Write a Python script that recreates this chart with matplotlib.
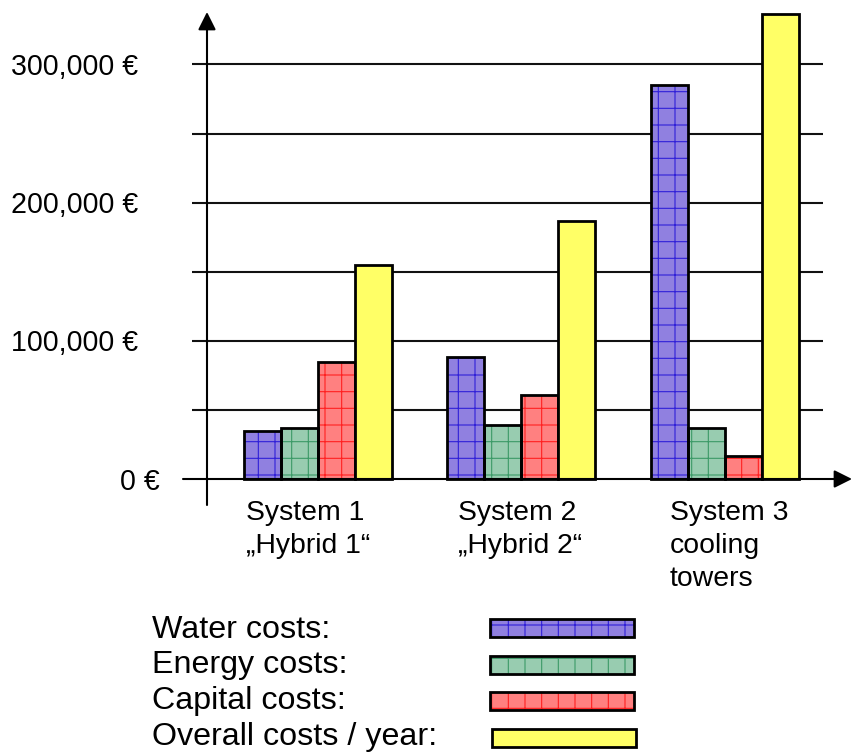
import matplotlib
matplotlib.use('Agg')
import matplotlib.pyplot as plt
from matplotlib.patches import Rectangle
import matplotlib.transforms as mtransforms

# ---------------- data ----------------
categories = [["System 1", "„Hybrid 1“"],
              ["System 2", "„Hybrid 2“"],
              ["System 3", "cooling", "towers"]]
series_names = ["Water costs:", "Energy costs:", "Capital costs:", "Overall costs / year:"]
water = [35000, 88000, 285000]
energy = [37000, 39000, 37000]
capital = [85000, 61000, 17000]
overall = [155000, 187000, 336500]
grid_values = [50000, 100000, 150000, 200000, 250000, 300000]
tick_values = [0, 100000, 200000, 300000]
tick_labels = ["0 €", "100,000 €", "200,000 €", "300,000 €"]

face_colors = ["#9080e0", "#98ccb0", "#ff8080", "#ffff66"]
hatch_colors = ["#3020d8", "#3c9a68", "#ff2020", None]

plt.rcParams['font.family'] = ['Liberation Sans', 'DejaVu Sans']
plt.rcParams['hatch.linewidth'] = 0.8

W, H = 852, 756
fig = plt.figure(figsize=(W / 100, H / 100), dpi=100)
fig.patch.set_facecolor('white')


def fx(px):
    return px / W


def fy(py):
    return 1 - py / H


# axes covering the plotting region (pixel layout)
ax = fig.add_axes([fx(183), fy(505), (852 - 183) / W, (505 - 12) / H])
grp = 203.5      # px per group
x0px = 317.5     # px of first group centre
y0px = 479       # px of zero
ppk = 1.382      # px per 1000 €
ax.set_xlim((183 - x0px) / grp, (852 - x0px) / grp)
ax.set_ylim((y0px - 505) / ppk * 1000, (y0px - 12) / ppk * 1000)
ax.axis('off')

# gridlines
gx0 = (192 - x0px) / grp
gx1 = (823 - x0px) / grp
ax.hlines(grid_values, gx0, gx1, colors='#111111', lw=1.5, zorder=1)

# bars
series = [water, energy, capital, overall]
bw = 37 / grp
xs = list(range(len(categories)))
for i, vals in enumerate(series):
    pos = [x + (i - 1.5) * bw for x in xs]
    if hatch_colors[i] is not None:
        ax.bar(pos, vals, bw, color=face_colors[i], edgecolor=hatch_colors[i],
               hatch='+', linewidth=0, zorder=2)
        ax.bar(pos, vals, bw, facecolor='none', edgecolor='black',
               linewidth=2, zorder=3)
    else:
        ax.bar(pos, vals, bw, color=face_colors[i], edgecolor='black',
               linewidth=2, zorder=3)

# axes with arrows
ylo, yhi = ax.get_ylim()
xlo, xhi = ax.get_xlim()
xa = (207 - x0px) / grp
arrow = dict(arrowstyle='-|>,head_length=0.9,head_width=0.45', lw=1.5,
             color='black', shrinkA=0, shrinkB=0, mutation_scale=12)
ax.annotate('', xy=(xa, yhi), xytext=(xa, ylo), arrowprops=arrow,
            annotation_clip=False, zorder=5)
ax.annotate('', xy=(xhi, 0), xytext=(xlo, 0), arrowprops=arrow,
            annotation_clip=False, zorder=5)

# y tick labels
trans = mtransforms.blended_transform_factory(fig.transFigure, ax.transData) + \
    mtransforms.ScaledTranslation(0, -0.105, fig.dpi_scale_trans)
for v, lab in zip(tick_values, tick_labels):
    xr = 160 if v == 0 else 138
    fig.text(fx(xr), v, lab, transform=trans, ha='right', va='baseline',
             fontsize=20.6)

# category labels
for i, lines in enumerate(categories):
    left = 246 + i * 212
    for j, line in enumerate(lines):
        fig.text(fx(left), fy(520 + j * 33), line, ha='left', va='baseline',
                 fontsize=20.4)

# legend
leg_base = [638, 673, 709, 745]
sw_top = [619, 656, 692, 729]
sw_left = [490, 490, 490, 492]
for i, name in enumerate(series_names):
    fig.text(fx(152), fy(leg_base[i]), name, ha='left', va='baseline', fontsize=23.2)
    xy = (fx(sw_left[i]), fy(sw_top[i] + 18))
    w = 144 / W
    h = 18 / H
    if hatch_colors[i] is not None:
        fig.add_artist(Rectangle(xy, w, h, transform=fig.transFigure,
                                 facecolor=face_colors[i], edgecolor=hatch_colors[i],
                                 hatch='+', linewidth=0))
        fig.add_artist(Rectangle(xy, w, h, transform=fig.transFigure,
                                 facecolor='none', edgecolor='black', linewidth=2))
    else:
        fig.add_artist(Rectangle(xy, w, h, transform=fig.transFigure,
                                 facecolor=face_colors[i], edgecolor='black',
                                 linewidth=2))

fig.savefig('out.png', dpi=100, facecolor='white')
